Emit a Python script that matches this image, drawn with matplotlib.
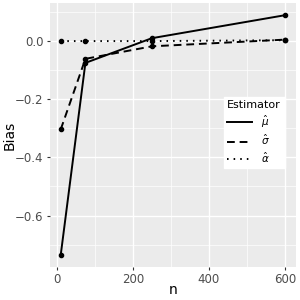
import numpy as np
import matplotlib
matplotlib.use("Agg")
import matplotlib.pyplot as plt

n = [10, 75, 250, 600]
bias_mu = [-0.736, -0.075, 0.010, 0.089]
bias_sigma = [-0.304, -0.061, -0.018, 0.005]
bias_alpha = [0.0, 0.0, 0.0, 0.003]
labels = [r"$\hat{\mu}$", r"$\hat{\sigma}$", r"$\hat{\alpha}$"]

fig = plt.figure(figsize=(3, 3), dpi=100)
ax = fig.add_axes([0.165, 0.11, 0.822, 0.88])
ax.set_facecolor("#EBEBEB")
for s in ax.spines.values():
    s.set_visible(False)

styles = ["-", (0, (4, 2.5)), (0, (0.8, 2.6))]
handles = []
for ys, ls, lab in zip([bias_mu, bias_sigma, bias_alpha], styles, labels):
    ax.plot(n, ys, color="black", lw=1.4, ls=ls, zorder=3)
    ax.plot(n, ys, "o", color="black", ms=3, zorder=4)
    h, = ax.plot([], [], color="black", lw=1.4, ls=ls, label=lab)
    handles.append(h)

ax.set_xlim(-19.5, 629.5)
ax.set_ylim(-0.777, 0.131)
ax.set_xticks([0, 200, 400, 600])
ax.set_yticks([-0.6, -0.4, -0.2, 0.0])
ax.set_yticklabels(["\u22120.6", "\u22120.4", "\u22120.2", "0.0"])
ax.set_xticks([100, 300, 500], minor=True)
ax.set_yticks([-0.7, -0.5, -0.3, -0.1, 0.1], minor=True)
ax.grid(which="major", color="white", lw=1.0)
ax.grid(which="minor", color="white", lw=0.5)
ax.set_axisbelow(True)
ax.tick_params(which="major", length=2.5, color="#333333", labelcolor="#4D4D4D",
               labelsize=8.5, pad=2)
ax.tick_params(which="minor", length=0)
ax.set_xlabel("n", fontsize=10)
ax.set_ylabel("Bias", fontsize=10)
ax.xaxis.set_label_coords(0.5, -0.062)
ax.yaxis.set_label_coords(-0.135, 0.5)

leg = fig.legend(handles=handles, title="Estimator", loc="upper left",
                 bbox_to_anchor=(0.728, 0.695), frameon=True, fancybox=False,
                 edgecolor="white", facecolor="white", framealpha=1,
                 fontsize=7.5, title_fontsize=8, handlelength=2.4,
                 handletextpad=0.8, labelspacing=0.3, borderpad=0.35)
leg._legend_box.align = "left"

fig.savefig("out.png", dpi=100)
